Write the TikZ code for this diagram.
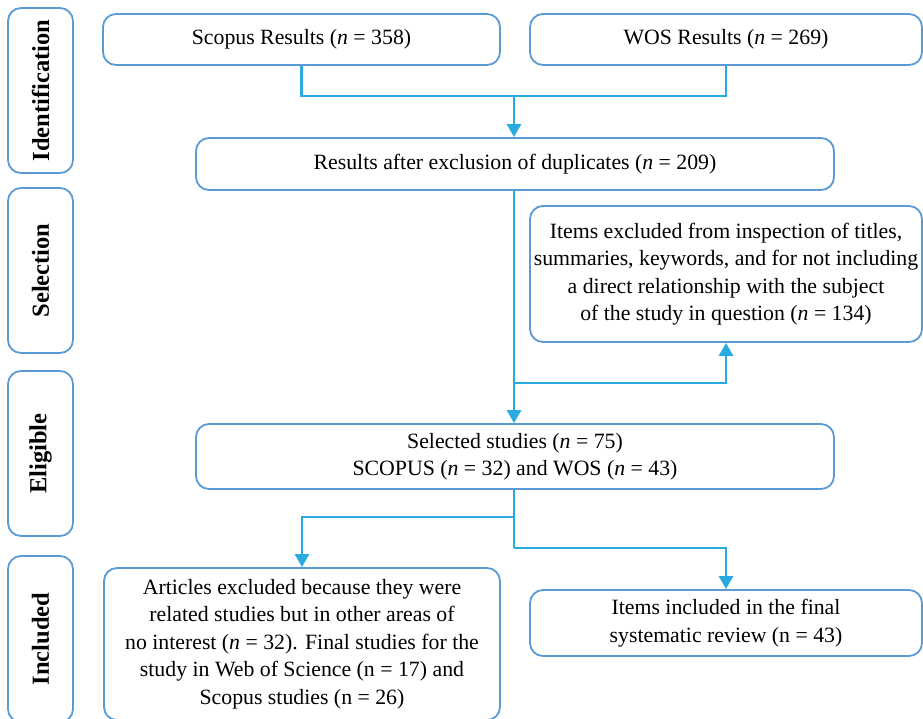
\documentclass[tikz,border=0pt]{standalone}
\usepackage{fontspec}
\setmainfont{Liberation Serif}
\usetikzlibrary{arrows.meta}
\definecolor{boxblue}{HTML}{5B9BD5}
\definecolor{linkblue}{HTML}{29ABE2}
\begin{document}
\begin{tikzpicture}[x=1pt,y=1pt,
  box/.style={draw=boxblue, line width=1.8pt, rounded corners=13pt, align=center, inner sep=0pt,
    font=\fontsize{21.8}{27.5}\selectfont},
  stagebox/.style={box, rotate=90, minimum height=65pt,
    font=\fontsize{24.5}{28}\selectfont\bfseries},
  conn/.style={draw=linkblue, line width=2.8pt},
  arr/.style={conn, -{Triangle[width=14pt,length=13pt]}}]
\useasboundingbox (0,0) rectangle (923,-718);
\clip (0,0) rectangle (923,-718);
% stage labels
\node[stagebox, minimum width=165pt] (idL)  at (40.5,-90.5)  {Identification};
\node[stagebox, minimum width=165pt] (selL) at (40.5,-270.5) {Selection};
\node[stagebox, minimum width=165pt] (eliL) at (40.5,-453.5) {Eligible};
\node[stagebox, minimum width=166pt] (incL) at (40.5,-639)   {Included};
% boxes
\node[box, minimum width=397pt, minimum height=51pt] (scopus) at (301.5,-39.5) {Scopus Results (\textit{n} = 358)};
\node[box, minimum width=392pt, minimum height=51pt] (wos) at (726,-39.5) {WOS Results (\textit{n} = 269)};
\node[box, minimum width=638pt, minimum height=52pt] (dup) at (515,-164) {Results after exclusion of duplicates (\textit{n} = 209)};
\node[box, minimum width=392pt, minimum height=136pt] (excl) at (726,-274) {Items excluded from inspection of titles,\\ summaries, keywords, and for not including\\ a direct relationship with the subject\\ of the study in question (\textit{n} = 134)};
\node[box, minimum width=638pt, minimum height=65pt] (sel) at (515,-456.5) {Selected studies (\textit{n} = 75)\\ SCOPUS (\textit{n} = 32) and WOS (\textit{n} = 43)};
\node[box, minimum width=396pt, minimum height=152pt] (art) at (302,-644) {Articles excluded because they were\\ related studies but in other areas of\\ no interest (\textit{n} = 32). Final studies for the\\ study in Web of Science (n = 17) and\\ Scopus studies (n = 26)};
\node[box, minimum width=392pt, minimum height=66pt] (inc) at (726,-623) {Items included in the final\\ systematic review (n = 43)};
% junctions
\coordinate (j1) at (514,-96);
\coordinate (j2) at (514,-383);
\coordinate (j3) at (514,-517);
\coordinate (j4) at (514,-548);
% connectors
\draw[conn] (scopus.south) |- (j1) -| (wos.south);
\draw[arr] (j1) -- (j1 |- dup.north);
\draw[arr] (j1 |- dup.south) -- (j1 |- sel.north);
\draw[arr] (j2) -| (excl.south);
\draw[conn] (j1 |- sel.south) -- (j4);
\draw[arr] (j3) -| (art.north);
\draw[arr] (j4) -| (inc.north);
\end{tikzpicture}
\end{document}
